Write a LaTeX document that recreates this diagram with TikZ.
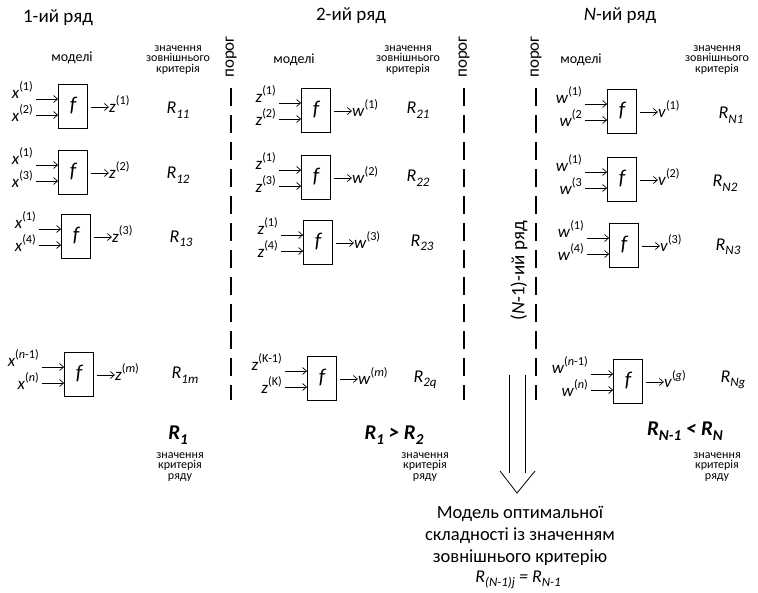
\documentclass[tikz,border=0pt]{standalone}
\usepackage{fontspec}
\setmainfont{Carlito}
\usetikzlibrary{calc,arrows.meta}
\newcommand\Sup[1]{\raisebox{0.45em}{\scalebox{0.72}{#1}}}
\newcommand\Sub[1]{\raisebox{-0.25em}{\scalebox{0.72}{#1}}}
\tikzset{
  mbox/.style={draw, line width=0.8pt, minimum width=29pt, minimum height=44pt, inner sep=0pt, font=\fontsize{21}{21}\selectfont\itshape},
  lab/.style={inner sep=0pt, font=\fontsize{17}{17}\selectfont},
  rlab/.style={inner sep=0pt, font=\fontsize{18}{18}\selectfont\itshape},
  arr/.style={-{Straight Barb[length=4pt,width=7pt]}, line width=0.7pt},
  thr/.style={line width=2.8pt, dash pattern=on 18pt off 9pt},
  ttl/.style={inner sep=0pt, font=\fontsize{19}{19}\selectfont},
  smalltxt/.style={inner sep=0pt, align=center, font=\fontsize{12}{10.5}\selectfont},
  modtxt/.style={inner sep=0pt, font=\fontsize{14}{14}\selectfont},
  prg/.style={inner sep=0pt, rotate=90, font=\fontsize{17}{17}\selectfont},
  rowlab/.style={inner sep=0pt, rotate=90, font=\fontsize{19}{19}\selectfont},
  bigR/.style={inner sep=0pt, font=\fontsize{21}{21}\selectfont\bfseries\itshape},
  restxt/.style={inner sep=0pt, align=center, font=\fontsize{18.5}{22}\selectfont},
  plain/.style={line width=0.8pt},
}
\newcommand\mdl[9]{%
  \node[mbox] (#1) at (#2,#3) {f};
  \coordinate (#1a) at ($(#1.west)+(-22,-7)$);
  \coordinate (#1b) at ($(#1.west)+(-22,9)$);
  \coordinate (#1c) at ($(#1.east)+(3,1)$);
  \node[lab, anchor=base east] (#1x) at ($(#1a)+(-3,-1)$) {#4};
  \node[lab, anchor=base east] (#1y) at ($(#1b)+(-3,6)$) {#5};
  \draw[arr] (#1a) -- (#1.west |- #1a);
  \draw[arr] (#1b) -- (#1.west |- #1b);
  \node[lab, anchor=base west] (#1z) at ($(#1c)+(18,5)$) {#6};
  \draw[arr] (#1c) -- (#1z.west |- #1c);
  \node[rlab] (#1r) at (#8,#9) {#7};
}
\begin{document}
\begin{tikzpicture}[x=1pt,y=-1pt]
\useasboundingbox (0,0) rectangle (758,592);
% titles
\node[ttl] (t1) at (58,18) {1-ий ряд};
\node[ttl] (t2) at (351,16) {2-ий ряд};
\node[ttl] (t3) at (620,16) {\textit{N}-ий ряд};
% headers
\node[modtxt] (h1) at (72,58) {моделі};
\node[modtxt] (h2) at (294,60) {моделі};
\node[modtxt] (h3) at (581,60) {моделі};
\node[smalltxt] (k1) at (178,60) {значення\\зовнішнього\\критерія};
\node[smalltxt] (k2) at (408,60) {значення\\зовнішнього\\критерія};
\node[smalltxt] (k3) at (717,60) {значення\\зовнішнього\\критерія};
% thresholds
\node[prg] (p1) at (231,57) {порог};
\node[prg] (p2) at (464,57) {порог};
\node[prg] (p3) at (536,57) {порог};
\coordinate (d1a) at (231,88); \coordinate (d1b) at (231,400);
\coordinate (d2a) at (464,88); \coordinate (d2b) at (464,400);
\coordinate (d3a) at (536,88); \coordinate (d3b) at (536,400);
\draw[thr] (d1a) -- (d1b);
\draw[thr] (d2a) -- (d2b);
\draw[thr] (d3a) -- (d3b);
\node[rowlab] (nm1) at (519,271) {(\textit{N}-1)-ий ряд};
% column 1
\mdl{m11}{73}{106}{\textit{x}\Sup{(1)}}{\textit{x}\Sup{(2)}}{\textit{z}\Sup{(1)}}{R\Sub{11}}{178}{110}
\mdl{m12}{73}{172}{\textit{x}\Sup{(1)}}{\textit{x}\Sup{(3)}}{\textit{z}\Sup{(2)}}{R\Sub{12}}{178}{175}
\mdl{m13}{76}{236}{\textit{x}\Sup{(1)}}{\textit{x}\Sup{(4)}}{\textit{z}\Sup{(3)}}{R\Sub{13}}{181}{239}
\mdl{m14}{79}{374}{\textit{x}\Sup{(\textit{n}-1)}}{\textit{x}\Sup{(\textit{n})}}{\textit{z}\Sup{(\textit{m})}}{R\Sub{1\textit{m}}}{185}{375}
% column 2
\mdl{m21}{316}{110}{\textit{z}\Sup{(1)}}{\textit{z}\Sup{(2)}}{\textit{w}\Sup{(1)}}{R\Sub{21}}{418}{110}
\mdl{m22}{316}{177}{\textit{z}\Sup{(1)}}{\textit{z}\Sup{(3)}}{\textit{w}\Sup{(2)}}{R\Sub{22}}{418}{178}
\mdl{m23}{318}{242}{\textit{z}\Sup{(1)}}{\textit{z}\Sup{(4)}}{\textit{w}\Sup{(3)}}{R\Sub{23}}{422}{243}
\mdl{m24}{322}{378}{\textit{z}\Sup{(K-1)}}{\textit{z}\Sup{(K)}}{\textit{w}\Sup{(\textit{m})}}{R\Sub{2\textit{q}}}{425}{380}
% column 3
\mdl{m31}{622}{111}{\textit{w}\Sup{(1)}}{\textit{w}\Sup{(2}}{\textit{v}\Sup{(1)}}{R\Sub{\textit{N}1}}{731}{115}
\mdl{m32}{622}{179}{\textit{w}\Sup{(1)}}{\textit{w}\Sup{(3}}{\textit{v}\Sup{(2)}}{R\Sub{\textit{N}2}}{725}{183}
\mdl{m33}{624}{245}{\textit{w}\Sup{(1)}}{\textit{w}\Sup{(4)}}{\textit{v}\Sup{(3)}}{R\Sub{\textit{N}3}}{728}{247}
\mdl{m34}{628}{381}{\textit{w}\Sup{(\textit{n}-1)}}{\textit{w}\Sup{(\textit{n})}}{\textit{v}\Sup{(\textit{g})}}{R\Sub{\textit{Ng}}}{733}{380}
% row criteria
\node[bigR] (c1) at (178,435) {R\Sub{1}};
\node[bigR] (c2) at (394,435) {R\Sub{1} > R\Sub{2}};
\node[bigR] (c3) at (685,431) {R\Sub{\textit{N}-1} < R\Sub{\textit{N}}};
\node[smalltxt] (s1) at (180,467) {значення\\критерія\\ряду};
\node[smalltxt] (s2) at (425,467) {значення\\критерія\\ряду};
\node[smalltxt] (s3) at (717,467) {значення\\критерія\\ряду};
% big arrow
\coordinate (a1t) at (509,375); \coordinate (a1b) at (509,473);
\coordinate (a2t) at (525,375); \coordinate (a2b) at (525,473);
\coordinate (wl) at (500,471); \coordinate (wt) at (517,493); \coordinate (wr) at (535,471);
\draw[plain] (a1t) -- (a1b);
\draw[plain] (a2t) -- (a2b);
\draw[plain] (wl) -- (wt) -- (wr);
% result
\node[restxt] (res) at (520,536) {Модель оптимальної\\складності із значенням\\зовнішнього критерію};
\node[rlab] (resR) at (518,580) {R\Sub{(\textit{N}-1)\textit{j}} = R\Sub{\textit{N}-1}};
\end{tikzpicture}
\end{document}
